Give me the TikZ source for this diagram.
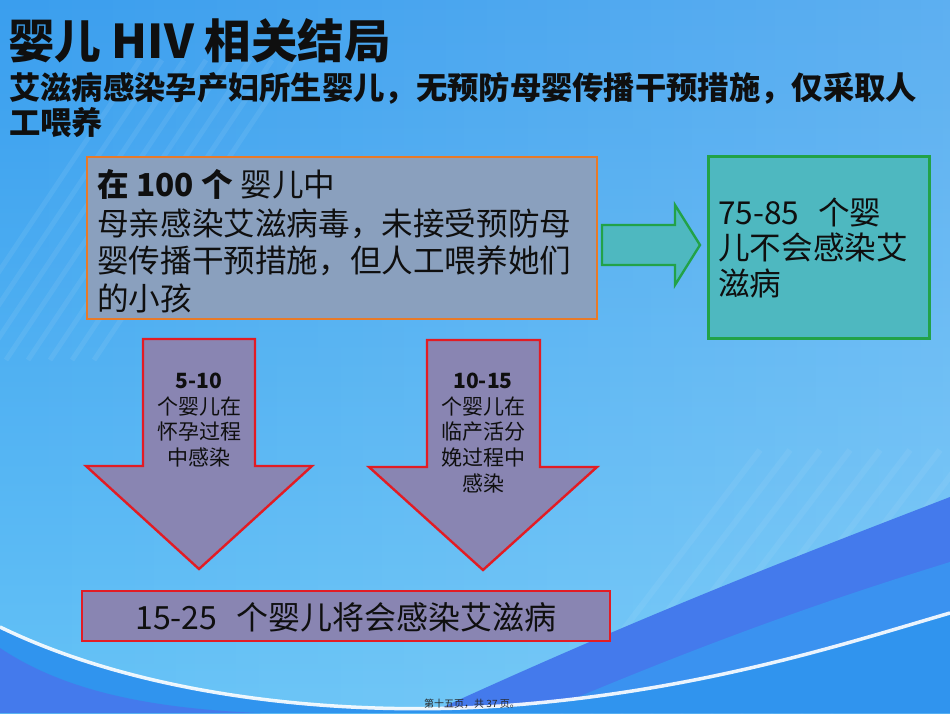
\documentclass[tikz,border=0pt]{standalone}
\usepackage{fontspec}
\setmainfont{Noto Sans CJK SC}
\usetikzlibrary{fadings}
\definecolor{bgtop}{RGB}{58,158,238}
\definecolor{bgbot}{RGB}{100,194,246}
\definecolor{bandA}{RGB}{68,122,236}
\definecolor{bandB}{RGB}{58,146,240}
\definecolor{bandC}{RGB}{48,148,238}
\definecolor{boxgray}{RGB}{138,160,190}
\definecolor{boxorange}{RGB}{232,122,40}
\definecolor{teal}{RGB}{78,184,192}
\definecolor{tealborder}{RGB}{34,162,72}
\definecolor{purp}{RGB}{137,133,178}
\definecolor{redb}{RGB}{226,28,36}
\definecolor{txt}{RGB}{15,15,15}
\tikzset{
  grayblock/.style={draw=boxorange, fill=boxgray, line width=2pt, inner sep=0pt},
  tealblock/.style={draw=tealborder, fill=teal, line width=2.6pt, inner sep=0pt},
  purpblock/.style={draw=redb, fill=purp, line width=2.4pt, line join=miter, inner sep=0pt},
  arrowgreen/.style={draw=tealborder, fill=teal, line width=2.4pt, line join=miter},
  arrowpurp/.style={draw=redb, fill=purp, line width=2.4pt, line join=miter},
  bigtxt/.style={font=\fontsize{31.6}{38}\selectfont, text=txt, inner sep=0pt, anchor=base west},
  smalltxt/.style={font=\fontsize{21}{25}\selectfont, text=txt, inner sep=0pt, anchor=base},
  headtxt/.style={text=txt, inner sep=0pt, anchor=base west}
}
\begin{document}
\begin{tikzpicture}[x=1pt,y=-1pt]
\useasboundingbox (0,0) rectangle (950,713);
% background
\shade[top color=bgtop, bottom color=bgbot] (0,0) rectangle (950,713);
\fill[white, opacity=0.18, path fading=west] (0,0) rectangle (950,713);
\begin{scope}
\clip (0,0) rectangle (950,713);
\foreach \i in {0,...,7}
  \draw[white, opacity=0.07, line width=5pt] (-60+\i*22,360) -- (140+\i*22,60);
\foreach \i in {0,...,9}
  \draw[white, opacity=0.06, line width=6pt] (560+\i*30,713) -- (760+\i*30,450);
% swoosh bands
\fill[bandA] (950,497) .. controls (800,555) and (650,612) .. (430,713) -- (950,713) -- cycle;
\fill[bandB] (950,562) .. controls (820,602) and (700,645) .. (540,713) -- (950,713) -- cycle;
\fill[bandC] (0,627) .. controls (150,700) and (350,716) .. (500,706) .. controls (700,692) and (850,642) .. (950,613) -- (950,713) -- (0,713) -- cycle;
\fill[bandA] (0,648) .. controls (60,688) and (140,708) .. (260,713) -- (0,713) -- cycle;
\draw[white, opacity=0.9, line width=3.5pt] (0,627) .. controls (150,700) and (350,716) .. (500,706) .. controls (700,692) and (850,642) .. (950,613);
\end{scope}
% title
\node[headtxt, font=\fontsize{46.5}{52}\selectfont\bfseries] (title) at (8,58) {婴儿 HIV 相关结局};
\node[headtxt, font=\fontsize{31.3}{36}\selectfont\bfseries] (sub1) at (9,99) {艾滋病感染孕产妇所生婴儿，无预防母婴传播干预措施，仅采取人};
\node[headtxt, font=\fontsize{31.3}{36}\selectfont\bfseries] (sub2) at (9,134) {工喂养};
% main box
\node[grayblock, minimum width=510pt, minimum height=162pt, anchor=north west] (mainbox) at (86,156) {};
\node[bigtxt] (m1) at (97,196) {{\bfseries 在 100 个}\hspace{0.25em}婴儿中};
\node[bigtxt] (m2) at (97,235) {母亲感染艾滋病毒，未接受预防母};
\node[bigtxt] (m3) at (97,272) {婴传播干预措施，但人工喂养她们};
\node[bigtxt] (m4) at (97,310) {的小孩};
% green arrow
\draw[arrowgreen] (602,225) -- (675,225) -- (675,205) -- (700,245) -- (675,285) -- (675,265) -- (602,265) -- cycle;
% green box
\node[tealblock, minimum width=221pt, minimum height=182pt, anchor=north west] (greenbox) at (707,155) {};
\node[bigtxt] (g1) at (718,224) {75-85\hspace{0.6em}个婴};
\node[bigtxt] (g2) at (718,259) {儿不会感染艾};
\node[bigtxt] (g3) at (718,295) {滋病};
% down arrows
\draw[arrowpurp] (143,339) -- (255,339) -- (255,466) -- (312,466) -- (199,569) -- (86,466) -- (143,466) -- cycle;
\draw[arrowpurp] (427,340) -- (540,340) -- (540,467) -- (597,467) -- (483,570) -- (369,467) -- (427,467) -- cycle;
\node[smalltxt, font=\fontsize{21}{25}\selectfont\bfseries] (a1) at (199,388) {5-10};
\node[smalltxt] (a2) at (199,414) {个婴儿在};
\node[smalltxt] (a3) at (199,439) {怀孕过程};
\node[smalltxt] (a4) at (199,465) {中感染};
\node[smalltxt, font=\fontsize{21}{25}\selectfont\bfseries] (b1) at (483,388) {10-15};
\node[smalltxt] (b2) at (483,414) {个婴儿在};
\node[smalltxt] (b3) at (483,439) {临产活分};
\node[smalltxt] (b4) at (483,465) {娩过程中};
\node[smalltxt] (b5) at (483,491) {感染};
% bottom box
\node[purpblock, minimum width=528pt, minimum height=50pt, anchor=north west] (botbox) at (81,590) {};
\node[font=\fontsize{32}{38}\selectfont, text=txt, inner sep=0pt, anchor=base] (bt) at (346,629) {15-25\hspace{0.6em}个婴儿将会感染艾滋病};
% footer
\node[font=\fontsize{10}{12}\selectfont, text=black!85, inner sep=0pt, anchor=base] (foot) at (472,707) {第十五页，共 37 页。};
\end{tikzpicture}
\end{document}
